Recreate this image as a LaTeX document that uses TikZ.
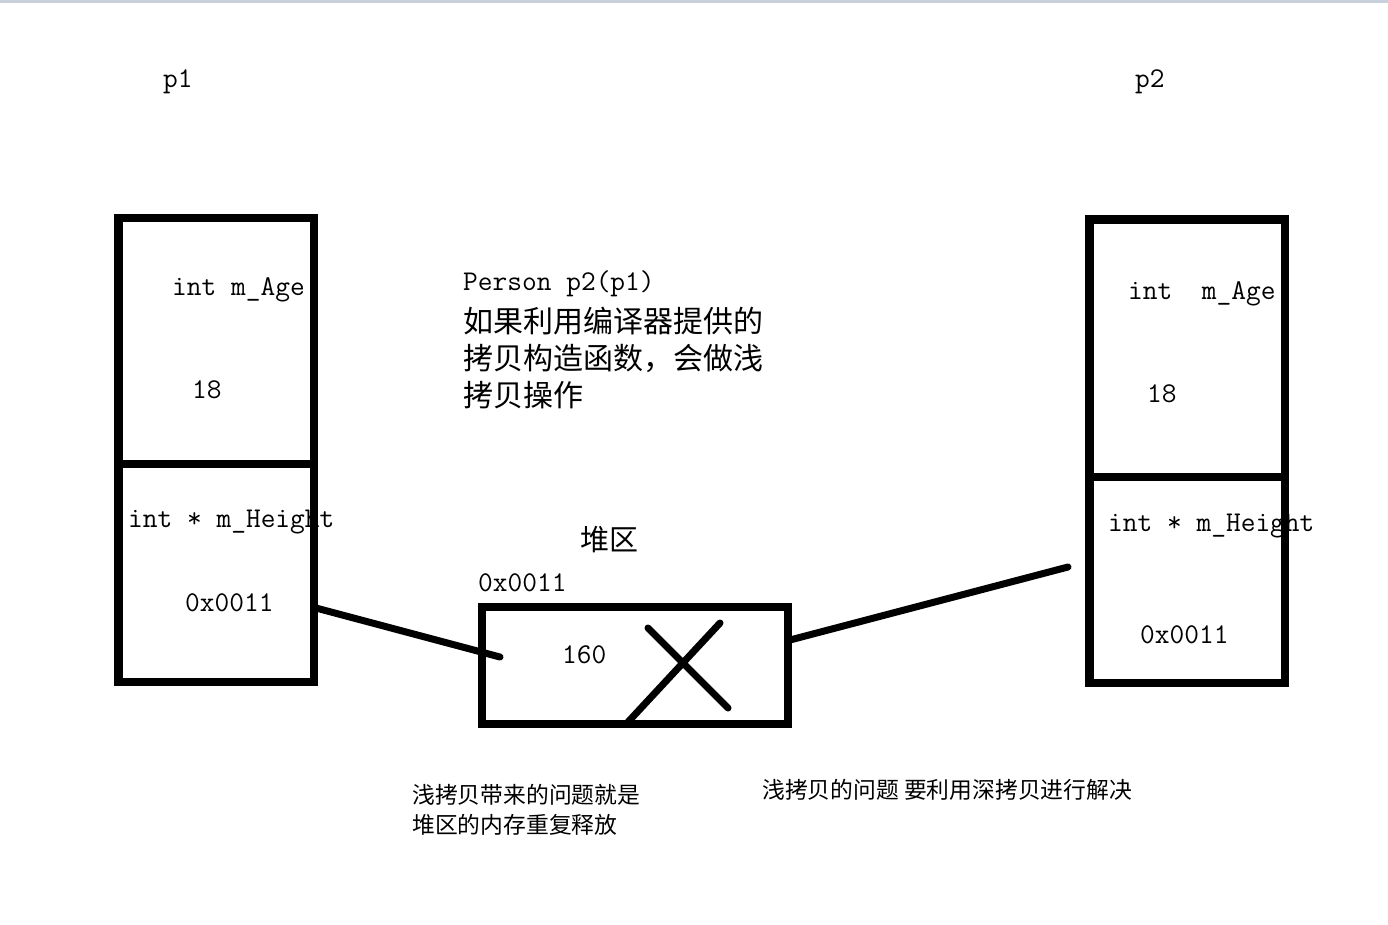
\documentclass[tikz,border=0pt]{standalone}
\usepackage{fontspec}
\newfontfamily\cjk{Noto Sans CJK SC}
\tikzset{
  box/.style={draw, line width=8.5pt, rectangle, inner sep=0pt, outer sep=0pt},
  mono/.style={font=\ttfamily\fontsize{28.6}{34}\selectfont, inner sep=0pt, anchor=west},
  zh/.style={font=\cjk\fontsize{30}{37}\selectfont, inner sep=0pt, anchor=west},
  zhs/.style={font=\cjk\fontsize{22.8}{30}\selectfont, inner sep=0pt, anchor=west},
  link/.style={line width=7pt, line cap=round},
  cross/.style={line width=7pt, line cap=round},
}
\definecolor{topbar}{RGB}{200,208,220}
\begin{document}
\begin{tikzpicture}[x=1pt, y=-1pt]
\useasboundingbox (0,0) rectangle (1388,924);
\fill[white] (0,0) rectangle (1388,924);
\fill[topbar] (0,0) rectangle (1388,2.5);

% labels
\node[mono] (p1lbl) at (163,82) {p1};
\node[mono] (p2lbl) at (1135,82) {p2};

% left object texts
\node[mono] (l1) at (172,290) {int m\_Age};
\node[mono] (l2) at (192,390) {18};
\node[mono] (l3) at (128,522) {int * m\_Height};
\node[mono] (l4) at (185,603) {0x0011};

% right object texts
\node[mono] (r1) at (1128,294) {int\ \ m\_Age};
\node[mono] (r2) at (1147,394) {18};
\node[mono] (r3) at (1108,526) {int * m\_Height};
\node[mono] (r4) at (1140,635) {0x0011};

% middle explanation
\node[mono] (t0) at (463,284) {Person p2(p1)};
\node[zh] (t1) at (463,321) {如果利用编译器提供的};
\node[zh] (t2) at (463,358) {拷贝构造函数，会做浅};
\node[zh] (t3) at (463,395) {拷贝操作};

% heap
\node[zh, font=\cjk\fontsize{29}{35}\selectfont] (heaplbl) at (580,540) {堆区};
\node[mono] (haddr) at (478,583) {0x0011};
\node[mono] (hval) at (562,655) {160};

% bottom notes
\node[zhs] (b1) at (412,795) {浅拷贝带来的问题就是};
\node[zhs] (b2) at (412,825) {堆区的内存重复释放};
\node[zhs] (b3) at (762,790) {浅拷贝的问题 要利用深拷贝进行解决};

% boxes
\node[box, minimum width=195.5pt, minimum height=246pt] (p1a) at (216.25,341) {};
\node[box, minimum width=195.5pt, minimum height=218pt] (p1b) at (216.25,573) {};
\node[box, minimum width=195.5pt, minimum height=257.5pt] (p2a) at (1187.25,348.25) {};
\node[box, minimum width=195.5pt, minimum height=206pt] (p2b) at (1187.25,580) {};
\node[box, minimum width=306pt, minimum height=117pt] (heap) at (635,665.5) {};

% connectors
\coordinate (la) at (316,608);
\coordinate (lb) at (500,657);
\coordinate (ra) at (790,640);
\coordinate (rb) at (1068,567);
\draw[link] (la) -- (lb);
\draw[link] (ra) -- (rb);

% cross
\coordinate (x1) at (648,628);
\coordinate (x2) at (728,708);
\coordinate (x3) at (720,623);
\coordinate (x4) at (628,722);
\draw[cross] (x1) -- (x2);
\draw[cross] (x3) -- (x4);
\end{tikzpicture}
\end{document}
